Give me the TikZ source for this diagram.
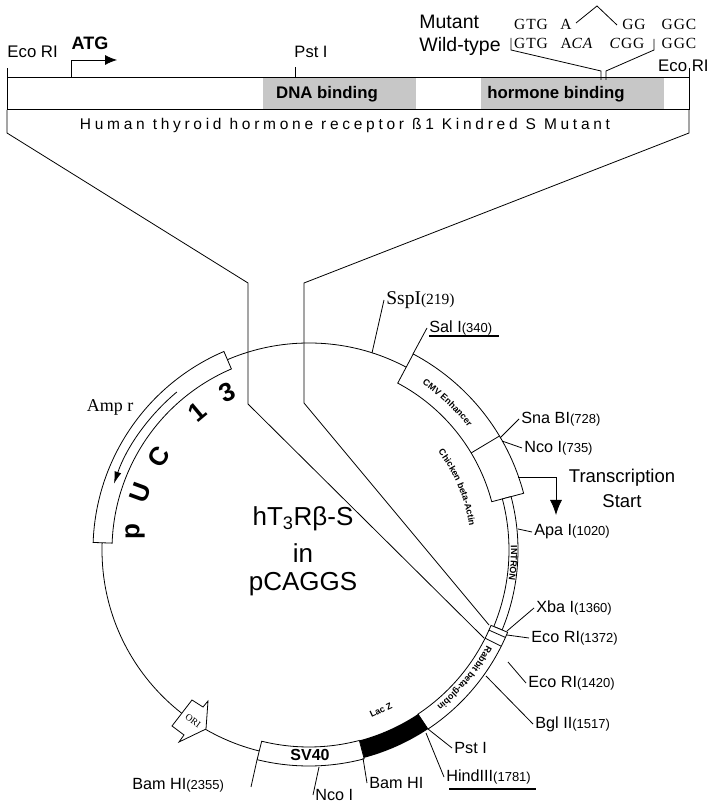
\documentclass[tikz,border=0pt]{standalone}
\usepackage{fontspec}
\setmainfont{Liberation Sans}
\newfontfamily\timesfont{Liberation Serif}
\newfontfamily\spacedfont[LetterSpace=24]{Liberation Sans}
\newfontfamily\seqfont[LetterSpace=6]{Liberation Serif}
\usetikzlibrary{arrows.meta,decorations.text}
\newcommand{\pos}[1]{{\fontsize{13}{14}\selectfont #1}}
\newcommand{\ringfont}{\fontsize{9}{10}\selectfont\bfseries}
\tikzset{
  site/.style={anchor=west,inner sep=2pt,font=\fontsize{16.2}{18}\selectfont},
  seq/.style={inner sep=0pt,font=\fontsize{15.5}{17}\seqfont},
  tiny lbl/.style={inner sep=0pt,font=\ringfont},
  ringtext/.style={decorate,decoration={text along path,text align=center,text={|\ringfont|#1}}},
  puc/.style={inner sep=0pt,font=\fontsize{26}{28}\selectfont\bfseries},
  big/.style={inner sep=0pt,font=\fontsize{26}{28}\selectfont},
  box/.style={draw,fill=white,line width=0.8pt}
}
\begin{document}
\begin{tikzpicture}[x=1pt,y=1pt,line width=0.8pt,>=Latex]
\useasboundingbox (0,0) rectangle (710,803);

% receptor bar
\fill[black!22] (263,725) rectangle (416,693);
\fill[black!22] (481,725) rectangle (664,693);
\draw[line width=1pt] (7,693) rectangle (689,725);
\draw (7,725) -- (7,735);
\draw (689,725) -- (689,735);
\draw (295,725) -- (295,736);
\draw (7,693) -- (7,670) -- (248,520) -- (248,399) -- (484,165);
\draw (689,693) -- (689,670) -- (304,520) -- (304,400) -- (489,178);
\draw[thick,-{Latex[length=12pt,width=10pt]}] (71,726) -- (71,743) -- (117,743);

\node[anchor=west,inner sep=0pt,font=\fontsize{16.8}{18}\selectfont] (ecoleft) at (7,751) {Eco RI};
\node[inner sep=0pt,font=\fontsize{18}{20}\selectfont\bfseries] (atg) at (90,760) {ATG};
\node[inner sep=0pt,font=\fontsize{16.5}{18}\selectfont] (pst) at (311,751) {Pst I};
\node[anchor=east,inner sep=0pt,font=\fontsize{16.8}{18}\selectfont] (ecoright) at (709,737) {Eco RI};
\node[inner sep=0pt,font=\fontsize{16.8}{18}\selectfont\bfseries] (dna) at (327,709) {DNA binding};
\node[inner sep=0pt,font=\fontsize{16.8}{18}\selectfont\bfseries] (hormone) at (556,709) {hormone binding};
\node[inner sep=0pt,font=\fontsize{15.5}{17}\spacedfont] (title) at (345,677) {Human thyroid hormone receptor ß1 Kindred S Mutant};

% mutation
\node[anchor=west,inner sep=0pt,font=\fontsize{19.5}{21}\selectfont] (mutant) at (419,781) {Mutant};
\node[anchor=west,inner sep=0pt,font=\fontsize{19.5}{21}\selectfont] (wildtype) at (419,757) {Wild-type};
\node[seq] (mutA) at (531,779) {GTG};
\node[seq] (mutB) at (566,779) {A};
\node[seq] (mutC) at (634,779) {GG};
\node[seq] (mutD) at (679,779) {GGC};
\node[seq] (wtA) at (531,760) {GTG};
\node[seq] (wtB) at (577,760) {A\textit{CA}};
\node[seq] (wtC) at (627,760) {\textit{C}GG};
\node[seq] (wtD) at (679,760) {GGC};
\draw (576,780) -- (597,797) -- (617,778);
\draw (511,765) -- (511,753) -- (601,732) -- (601,723);
\draw (654,764) -- (654,753) -- (606,732) -- (606,723);

% plasmid ring
\begin{scope}[shift={(309,253)}]
\draw (0,0) circle (207);
\draw[box] (113.2:197) arc[start angle=113.2,end angle=178,radius=197] -- (178:216)
  arc[start angle=178,end angle=113.2,radius=216] -- cycle;
\draw[box] (62:189) arc[start angle=62,end angle=14.8,radius=189] -- (14.8:222)
  arc[start angle=14.8,end angle=62,radius=222] -- cycle;
\draw (30.9:189) -- (30.9:222);
\draw[box] (14.8:200) arc[start angle=14.8,end angle=-22.5,radius=200] -- (-22.5:209)
  arc[start angle=-22.5,end angle=14.8,radius=209] -- cycle;
\draw[box] (-22.5:197) arc[start angle=-22.5,end angle=-56.4,radius=197] -- (-56.4:215)
  arc[start angle=-56.4,end angle=-22.5,radius=215] -- cycle;
\draw (-24:197) -- (-24:215);
\draw (-26.6:197) -- (-26.6:215);
\fill[black] (-56.4:197) arc[start angle=-56.4,end angle=-75.2,radius=197] -- (-75.2:215)
  arc[start angle=-75.2,end angle=-56.4,radius=215] -- cycle;
\draw[box] (-75.2:197) arc[start angle=-75.2,end angle=-103.9,radius=197] -- (-103.9:216)
  arc[start angle=-103.9,end angle=-75.2,radius=216] -- cycle;
\draw[-{Latex[length=12pt,width=7pt]}] (129.9:206) arc[start angle=129.9,end angle=161.2,radius=206];
\path[ringtext={CMV Enhancer}] (65:201) arc[start angle=65,end angle=28.4,radius=201];
\path[ringtext={Chicken beta-Actin}] (45:162) arc[start angle=45,end angle=0.6,radius=162];
\path[ringtext={INTRON}] (10:202) arc[start angle=10,end angle=-17.4,radius=202];
\path[ringtext={Rabbit beta-globin}] (-20:202) arc[start angle=-20,end angle=-59,radius=202];
\end{scope}
\draw[box] (192,103) -- (203,96) -- (208,102) -- (206,74) -- (179,61) -- (184,68) -- (172,77) -- cycle;

\node[font=\fontsize{9.5}{10}\timesfont,inner sep=0pt,rotate=-35] (ori) at (193,82) {ORI};
\node[inner sep=0pt,font=\fontsize{16}{18}\selectfont\bfseries] (sv40) at (310,48) {SV40};
\node[tiny lbl] (lacz) at (381,93) [rotate=25] {Lac Z};

\node[puc,rotate=90] (pucp) at (135,271) {p};
\node[puc,rotate=70] (pucu) at (140,310) {U};
\node[puc,rotate=58] (pucc) at (159,346) {C};
\node[puc,rotate=40] (pucone) at (197,391) {1};
\node[puc,rotate=25] (pucthree) at (227,411) {3};
\node[inner sep=0pt,font=\fontsize{18}{20}\timesfont] (amp) at (110,396) {Amp r};

\node[big] (name) at (303,284) {hT\textsubscript{3}Rβ-S};
\node[big] (in) at (303,250) {in};
\node[big] (vector) at (303,219) {pCAGGS};

% sites
\coordinate (ssp) at (372,450);
\coordinate (sal) at (413,449);
\coordinate (sna) at (500,365);
\coordinate (ncoa) at (502,362);
\coordinate (tss) at (518,326);
\coordinate (apa) at (518,274);
\coordinate (xba) at (507,172);
\coordinate (ecoa) at (507,168);
\coordinate (ecob) at (508,141);
\coordinate (bgl) at (486,127);
\coordinate (psta) at (428,74);
\coordinate (hind) at (426,70);
\coordinate (bama) at (363,45);
\coordinate (ncob) at (319,36);
\coordinate (bamb) at (257,43);
\coordinate (bambend) at (251,16);

\node[site,font=\fontsize{19.5}{21}\timesfont] (ssplabel) at (384,503) {SspI{\fontsize{15.5}{17}\selectfont(219)}};
\node[site] (sallabel) at (427,475) {Sal I\pos{(340)}};
\node[site] (snalabel) at (519,384) {Sna BI\pos{(728)}};
\node[site] (ncoalabel) at (522,355) {Nco I\pos{(735)}};
\node[site] (apalabel) at (532,271) {Apa I\pos{(1020)}};
\node[site] (xbalabel) at (534,195) {Xba I\pos{(1360)}};
\node[site] (ecoalabel) at (529,165) {Eco RI\pos{(1372)}};
\node[site] (ecoblabel) at (526,120) {Eco RI\pos{(1420)}};
\node[site] (bgllabel) at (533,79) {Bgl II\pos{(1517)}};
\node[site] (pstlabel) at (452,55) {Pst I};
\node[site] (hindlabel) at (444,26) {HindIII\pos{(1781)}};
\node[site] (bamalabel) at (367,20) {Bam HI};
\node[site] (ncoblabel) at (313,8) {Nco I};
\node[site] (bamblabel) at (130,18) {Bam HI\pos{(2355)}};

\draw (ssp) -- (ssplabel.west);
\draw (sal) -- (sallabel.west);
\draw (sna) -- (snalabel.west);
\draw (ncoa) -- (ncoalabel.west);
\draw (apa) -- (apalabel.west);
\draw (xba) -- (xbalabel.west);
\draw (ecoa) -- (ecoalabel.west);
\draw (ecob) -- (ecoblabel.west);
\draw (bgl) -- (bgllabel.west);
\draw (psta) -- (pstlabel.west);
\draw (hind) -- (hindlabel.west);
\draw (bama) -- (bamalabel.west);
\draw (ncob) -- (ncoblabel.west);
\draw (bamb) -- (bambend);

\draw[line width=1.6pt] (429,467) -- (499,467);
\draw[line width=1.6pt] (449,14) -- (536,14);

\node[inner sep=0pt,font=\fontsize{18.5}{20}\selectfont] (transcription) at (622,325) {Transcription};
\node[inner sep=0pt,font=\fontsize{18.5}{20}\selectfont] (start) at (622,302) {Start};
\draw[-{Latex[length=15pt,width=12pt]}] (tss) -- (556,326) -- (556,288);
\end{tikzpicture}
\end{document}
